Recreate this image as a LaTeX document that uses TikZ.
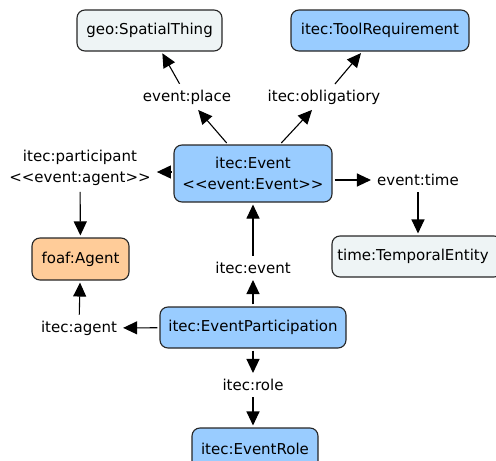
\documentclass[tikz,border=0pt]{standalone}
\usepackage{fontspec}
\setmainfont{DejaVu Sans}
\usetikzlibrary{arrows.meta}
\definecolor{bluef}{RGB}{153,204,255}
\definecolor{grayf}{RGB}{238,244,245}
\definecolor{orangef}{RGB}{255,204,153}
\begin{document}
\begin{tikzpicture}[x=1pt,y=-1pt,
 box/.style={draw=black!85, line width=1.1pt, rounded corners=8pt, font=\fontsize{15}{21}\selectfont, align=center, inner sep=0pt},
 lbl/.style={font=\fontsize{15}{21}\selectfont, align=center, inner sep=4pt},
 arr/.style={line width=1.1pt, -{Triangle[length=14pt,width=13pt]}, shorten <=2pt, shorten >=2pt}]
\useasboundingbox (0,0) rectangle (496,461);
\clip (0,0) rectangle (496,461);
\node[box, fill=grayf, minimum width=145pt, minimum height=41pt] (spatial) at (149.5,30.5) {geo:SpatialThing};
\node[box, fill=bluef, minimum width=178pt, minimum height=41pt] (tool) at (380,30.5) {itec:ToolRequirement};
\node[box, fill=bluef, minimum width=158pt, minimum height=57pt] (event) at (253,173.5) {itec:Event\\<{}<event:Event>{}>};
\node[box, fill=orangef, minimum width=97pt, minimum height=42pt] (agent) at (80.5,259) {foaf:Agent};
\node[box, fill=grayf, minimum width=170pt, minimum height=41pt] (temporal) at (417,256.5) {\hspace*{-8pt}time:TemporalEntity};
\node[box, fill=bluef, minimum width=186pt, minimum height=41pt] (part) at (253,327.5) {itec:EventParticipation};
\node[box, fill=bluef, minimum width=126pt, minimum height=41pt] (rolebox) at (255,448.5) {itec:EventRole};

\node[lbl] (place) at (187,97) {event:place};
\node[lbl] (oblig) at (324,97) {itec:obligatiory};
\node[lbl] (partic) at (80,168) {itec:participant\\<{}<event:agent>{}>};
\node[lbl] (time) at (418,180) {event:time};
\node[lbl] (evlbl) at (253,268) {itec:event};
\node[lbl] (aglbl) at (79,328) {itec:agent};
\node[lbl] (role) at (253,385) {itec:role};

\draw[arr] (event) -- (place);
\draw[arr] (place) -- (spatial);
\draw[arr] (event) -- (oblig);
\draw[arr] (oblig) -- (tool);
\draw[arr] (event.west |- 0,172) -- (partic.east |- 0,172);
\draw[arr] (partic) -- (agent);
\draw[arr] (event.east |- time.west) -- (time.west);
\draw[arr] (time) -- (time |- temporal.north);
\draw[arr] (part) -- (evlbl);
\draw[arr] (evlbl) -- (event);
\draw[arr] (part) -- (aglbl);
\draw[arr] (aglbl) -- (agent);
\draw[arr] (part) -- (role);
\draw[arr] (role) -- (role |- rolebox.north);
\end{tikzpicture}
\end{document}
